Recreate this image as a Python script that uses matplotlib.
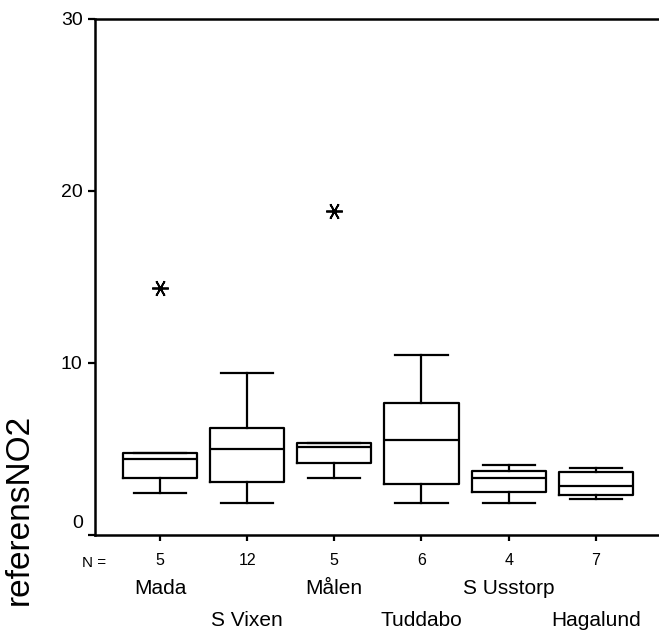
import matplotlib
matplotlib.use("Agg")
import matplotlib.pyplot as plt

plt.rcParams['font.family'] = ['Liberation Sans', 'DejaVu Sans']

categories = ["Mada", "S Vixen", "Målen", "Tuddabo", "S Usstorp", "Hagalund"]
n_counts = [5, 12, 5, 6, 4, 7]
whislo = [2.42, 1.84, 3.29, 1.84, 1.84, 2.07]
q1 = [3.29, 3.09, 4.20, 2.96, 2.51, 2.30]
med = [4.43, 4.97, 5.09, 5.53, 3.31, 2.86]
q3 = [4.76, 6.19, 5.32, 7.66, 3.73, 3.64]
whishi = [4.76, 9.42, 5.32, 10.45, 4.06, 3.87]
extremes = [[14.32], [], [18.80], [], [], []]
yticks = [0, 10, 20, 30]

W, H = 659, 630
fig = plt.figure(figsize=(W / 100, H / 100), dpi=100)
ax = fig.add_axes([95 / W, (H - 535) / H, 1 - 95 / W + 0.01, (535 - 18.5) / H])

stats = []
for i, c in enumerate(categories):
    stats.append(dict(label=c, whislo=whislo[i], q1=q1[i], med=med[i], q3=q3[i],
                      whishi=whishi[i], fliers=extremes[i]))

pos = list(range(len(categories)))
lw = 1.6
ax.bxp(stats, positions=pos, widths=0.85, showfliers=True,
       boxprops=dict(color='black', linewidth=lw),
       medianprops=dict(color='black', linewidth=lw),
       whiskerprops=dict(color='black', linewidth=lw),
       capprops=dict(color='black', linewidth=lw),
       capwidths=0.6,
       flierprops=dict(marker=(6, 2, 90), markersize=12, markeredgecolor='black',
                       markeredgewidth=1.3, linestyle='none'))

ax.set_ylim(0, 30)
ax.set_xlim(-0.745, 5.80)
ax.set_yticks(yticks)
ax.set_yticklabels(["" if v == 0 else str(v) for v in yticks], fontsize=14)
ax.annotate("0", xy=(0, 0), xycoords='axes fraction', xytext=(-12, 11),
            textcoords='offset pixels', ha='right', va='center', fontsize=14)
ax.tick_params(axis='y', direction='out', length=5, width=1.6, pad=4)
ax.set_xticks(pos)
ax.set_xticklabels([str(n) for n in n_counts], fontsize=11.5)
ax.tick_params(axis='x', direction='out', length=4, width=1.6, pad=9)
for s in ['left', 'top', 'bottom']:
    ax.spines[s].set_linewidth(1.8)
ax.spines['right'].set_visible(False)

ax.annotate("N =", xy=(0, 0), xycoords='axes fraction', xytext=(-13, -28),
            textcoords='offset pixels', ha='left', va='center', fontsize=11)
for i, c in enumerate(categories):
    yoff = -53 if i % 2 == 0 else -85
    ax.annotate(c, xy=(i, 0), xycoords=('data', 'axes fraction'), xytext=(0, yoff),
                textcoords='offset pixels', ha='center', va='center', fontsize=15)

ax.set_ylabel("referensNO2", fontsize=24)
ax.yaxis.set_label_coords(-0.105, 0.05)

fig.savefig("out.png", dpi=100)
